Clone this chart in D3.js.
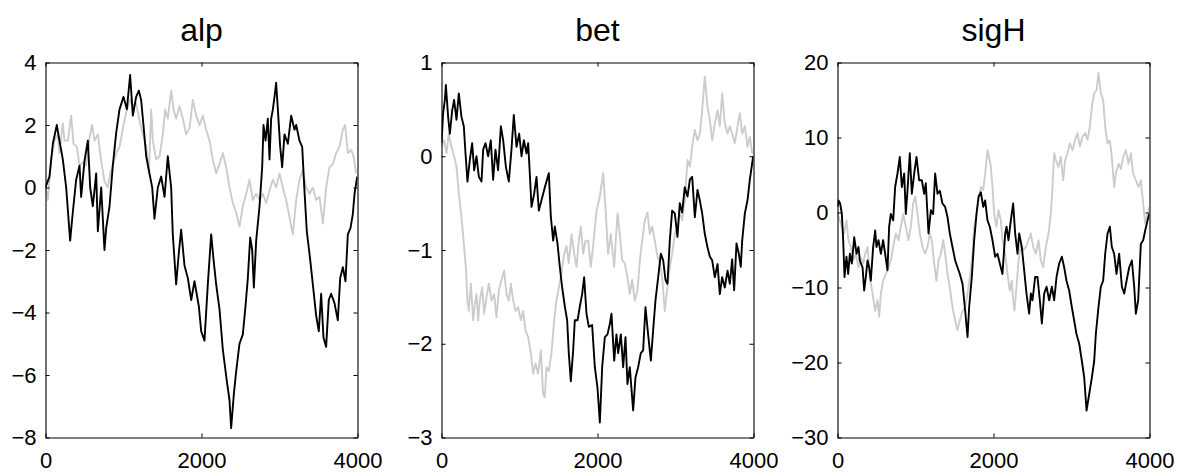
<!DOCTYPE html>
<html>
<head>
<meta charset="utf-8">
<script src="https://cdn.jsdelivr.net/npm/d3@7"></script>
<style>
  html, body { margin: 0; padding: 0; background: #fff; }
  svg { display: block; }
  text { font-family: "Liberation Sans", Arial, Helvetica, sans-serif; fill: #000; }
</style>
</head>
<body>
<svg id="fig" width="1179" height="472"></svg>
<script>
// Trace samples: [iteration, value] for the two chains of each parameter.
const alpChainA = [
  [0,0.0],[51,0.35],[94,1.4],[145,2.0],[179,1.5],[222,0.9],[265,0.0],[316,-1.7],[350,-0.8],[393,0.25],
  [436,0.7],[457,-0.3],[500,0.85],[543,1.5],[573,0.0],[607,-0.6],[650,0.45],[671,-1.4],[714,0.0],[756,-2.0],
  [778,-1.3],[821,-0.6],[863,0.7],[906,1.75],[949,2.5],[1000,2.9],[1043,2.5],[1085,3.6],[1120,2.3],[1162,2.9],
  [1197,3.1],[1226,2.8],[1256,2.0],[1291,1.0],[1333,0.45],[1368,0.0],[1397,-1.0],[1440,0.0],[1483,0.35],[1526,-0.3],
  [1568,1.0],[1611,0.0],[1632,-1.5],[1675,-3.1],[1709,-2.1],[1739,-1.35],[1782,-2.5],[1825,-2.9],[1868,-3.6],[1910,-3.0],
  [1966,-3.8],[1996,-4.6],[2038,-4.9],[2081,-3.1],[2124,-1.5],[2154,-2.3],[2188,-3.1],[2231,-3.9],[2274,-5.2],[2325,-6.2],
  [2359,-6.8],[2380,-7.7],[2415,-6.6],[2444,-5.9],[2487,-5.0],[2530,-4.7],[2564,-3.8],[2594,-2.9],[2624,-1.6],[2650,-2.0],
  [2671,-3.2],[2701,-1.7],[2744,-0.6],[2778,0.65],[2795,2.0],[2821,1.5],[2850,2.2],[2872,0.9],[2893,2.2],[2915,2.5],
  [2936,2.9],[2957,3.35],[2979,2.5],[3009,1.3],[3034,0.65],[3064,1.7],[3107,1.4],[3150,2.3],[3192,1.85],[3214,2.0],
  [3256,1.5],[3291,1.3],[3320,-0.1],[3350,-1.4],[3393,-2.3],[3436,-3.3],[3470,-4.1],[3504,-4.6],[3534,-3.4],[3564,-4.8],
  [3598,-5.1],[3632,-3.6],[3662,-3.4],[3705,-3.7],[3748,-4.25],[3778,-2.9],[3812,-2.55],[3846,-3.0],[3876,-1.5],[3910,-1.3],
  [3940,-0.85],[3962,-0.2],[3996,0.35]
];
const alpChainB = [
  [0,0.0],[30,-0.4],[73,0.9],[115,1.5],[158,1.7],[179,1.1],[222,2.05],[244,1.5],[286,1.5],[329,2.3],
  [359,1.4],[402,1.3],[436,0.7],[479,0.8],[521,0.7],[564,1.6],[598,2.0],[628,1.5],[671,1.7],[714,0.85],
  [756,0.2],[799,0.0],[829,0.45],[863,0.7],[906,1.1],[949,1.3],[1000,2.0],[1034,2.4],[1085,2.8],[1120,2.6],
  [1162,2.7],[1205,2.15],[1248,1.7],[1291,1.3],[1325,0.45],[1355,2.5],[1376,1.5],[1419,0.9],[1462,1.0],[1504,1.7],
  [1534,2.5],[1568,2.2],[1611,3.1],[1641,2.5],[1675,2.2],[1718,2.6],[1761,2.2],[1803,1.7],[1846,1.9],[1889,2.8],
  [1932,2.3],[1974,2.0],[2017,2.3],[2060,1.85],[2103,1.5],[2145,0.9],[2188,0.45],[2231,0.75],[2274,1.1],[2316,0.65],
  [2359,0.0],[2402,-0.5],[2444,-0.8],[2487,-1.25],[2530,-0.6],[2573,-0.2],[2615,0.25],[2658,-0.4],[2701,-0.2],[2744,-0.4],
  [2786,-0.2],[2829,-0.5],[2872,-0.1],[2915,0.25],[2957,0.0],[3000,0.45],[3043,0.0],[3085,-0.4],[3128,-0.95],[3171,-1.5],
  [3214,-0.4],[3256,0.25],[3299,0.55],[3342,0.0],[3385,-0.2],[3427,0.0],[3470,-0.4],[3513,-0.3],[3556,-1.15],[3598,0.0],
  [3641,0.65],[3684,0.75],[3726,1.1],[3769,1.3],[3812,1.85],[3842,2.0],[3876,1.1],[3919,1.2],[3949,1.0],[3983,0.45]
];
const betChainA = [
  [0,0.14],[21,0.46],[43,0.6],[56,0.76],[85,0.42],[107,0.24],[137,0.49],[162,0.6],[192,0.39],[222,0.67],
  [256,0.42],[286,0.32],[308,0.03],[333,-0.27],[363,-0.04],[393,0.14],[419,-0.15],[449,0.0],[479,-0.22],[513,-0.27],
  [534,0.07],[564,0.14],[598,0.0],[632,0.17],[662,-0.25],[692,0.07],[726,-0.15],[761,0.32],[791,0.17],[825,-0.11],
  [863,-0.27],[897,0.07],[927,0.44],[962,0.1],[996,0.24],[1026,0.0],[1056,0.17],[1090,0.03],[1111,0.14],[1132,-0.18],
  [1154,-0.54],[1188,-0.4],[1218,-0.22],[1248,-0.58],[1282,-0.47],[1325,-0.33],[1376,-0.18],[1402,-0.65],[1432,-0.9],[1453,-0.75],
  [1487,-0.93],[1517,-1.18],[1547,-1.4],[1581,-1.6],[1611,-1.75],[1632,-2.1],[1658,-2.4],[1688,-2.07],[1709,-1.75],[1744,-1.75],
  [1774,-1.6],[1803,-1.47],[1829,-1.29],[1859,-1.68],[1889,-1.82],[1931,-1.8],[1966,-2.25],[2000,-2.47],[2030,-2.84],[2060,-2.25],
  [2094,-1.93],[2128,-1.9],[2158,-1.79],[2179,-1.68],[2214,-2.18],[2243,-1.9],[2265,-2.1],[2299,-1.9],[2329,-2.25],[2359,-1.93],
  [2384,-2.43],[2414,-2.25],[2457,-2.71],[2487,-2.36],[2521,-2.25],[2555,-2.1],[2585,-2.07],[2615,-1.61],[2649,-1.9],[2684,-2.18],
  [2713,-1.86],[2743,-1.54],[2778,-1.29],[2812,-1.04],[2842,-1.11],[2872,-1.32],[2897,-1.36],[2927,-0.9],[2957,-0.58],[2991,-0.61],
  [3025,-0.86],[3055,-0.5],[3085,-0.6],[3119,-0.33],[3154,-0.43],[3184,-0.25],[3214,-0.22],[3248,-0.65],[3282,-0.36],[3312,-0.47],
  [3342,-0.61],[3376,-0.83],[3410,-0.97],[3440,-1.07],[3470,-1.11],[3504,-1.29],[3539,-1.15],[3568,-1.47],[3598,-1.29],[3632,-1.4],
  [3667,-1.22],[3697,-1.36],[3726,-1.1],[3752,-1.43],[3782,-0.93],[3812,-1.04],[3837,-1.18],[3855,-0.9],[3889,-0.61],[3923,-0.47],
  [3953,-0.25],[3996,0.0]
];
const betChainB = [
  [0,0.1],[34,0.17],[64,0.03],[94,0.24],[128,0.1],[162,0.0],[192,-0.11],[222,-0.4],[256,-0.65],[286,-0.93],
  [312,-1.18],[333,-1.54],[350,-1.65],[376,-1.36],[406,-1.75],[427,-1.58],[449,-1.47],[470,-1.75],[491,-1.54],[521,-1.4],
  [547,-1.68],[577,-1.5],[607,-1.36],[641,-1.54],[675,-1.47],[705,-1.72],[735,-1.43],[769,-1.32],[803,-1.22],[833,-1.47],
  [863,-1.54],[889,-1.36],[919,-1.54],[949,-1.65],[983,-1.61],[1017,-1.75],[1047,-1.65],[1077,-1.86],[1111,-1.93],[1145,-2.1],
  [1175,-2.32],[1205,-2.21],[1239,-2.32],[1274,-2.07],[1303,-2.54],[1325,-2.57],[1346,-2.25],[1376,-2.29],[1410,-2.1],[1444,-1.75],
  [1474,-1.54],[1504,-1.4],[1538,-1.25],[1573,-1.04],[1603,-0.96],[1632,-1.14],[1667,-0.83],[1701,-1.04],[1731,-1.18],[1761,-0.9],
  [1786,-0.75],[1816,-1.04],[1846,-0.9],[1880,-0.9],[1914,-1.18],[1944,-0.96],[1987,-0.58],[2030,-0.43],[2073,-0.18],[2102,-0.54],
  [2136,-1.04],[2170,-0.83],[2214,-1.18],[2256,-0.61],[2286,-0.83],[2316,-1.11],[2350,-1.14],[2384,-1.29],[2414,-1.47],[2444,-1.32],
  [2479,-1.54],[2513,-1.43],[2543,-1.11],[2573,-0.9],[2607,-0.68],[2641,-0.6],[2671,-0.83],[2701,-0.75],[2735,-0.9],[2769,-1.07],
  [2799,-1.14],[2829,-1.29],[2863,-1.65],[2897,-1.4],[2927,-1.18],[2957,-1.04],[2991,-0.83],[3025,-0.75],[3055,-0.6],[3085,-0.68],
  [3119,-0.47],[3154,-0.04],[3184,-0.11],[3214,0.1],[3248,0.28],[3282,0.17],[3312,0.24],[3342,0.49],[3376,0.85],[3410,0.53],
  [3440,0.39],[3470,0.17],[3504,0.35],[3539,0.49],[3568,0.32],[3598,0.67],[3632,0.35],[3667,0.24],[3697,0.32],[3726,0.24],
  [3761,0.14],[3795,0.32],[3825,0.46],[3855,0.24],[3889,0.32],[3923,0.1],[3953,0.21],[3983,0.03]
];
const sigHChainA = [
  [0,0.75],[13,1.6],[34,1.2],[56,-0.2],[73,-3.7],[90,-8.6],[115,-5.9],[137,-8.2],[158,-5.5],[184,-6.8],
  [214,-3.3],[244,-5.5],[269,-4.6],[286,-6.4],[321,-7.3],[342,-10.4],[363,-8.6],[385,-6.4],[406,-7.3],[427,-9.1],
  [457,-4.6],[483,-2.4],[500,-4.6],[526,-3.7],[556,-5.5],[585,-3.7],[611,-5.5],[641,-7.7],[662,-1.9],[684,-0.2],
  [714,-1.05],[739,3.4],[769,5.2],[799,7.4],[825,3.4],[855,5.2],[876,-0.2],[897,2.9],[927,7.9],[953,2.5],
  [983,5.2],[1013,7.4],[1047,4.3],[1081,4.3],[1111,2.5],[1132,3.9],[1167,-2.8],[1197,0.3],[1226,-0.2],[1252,5.2],
  [1282,2.5],[1312,2.9],[1346,1.2],[1380,0.75],[1410,-0.6],[1440,-2.8],[1474,-4.6],[1509,-6.4],[1538,-7.3],[1568,-8.2],
  [1603,-9.5],[1637,-13.1],[1667,-16.6],[1688,-12.6],[1722,-8.6],[1752,-3.7],[1782,-0.2],[1808,2.1],[1838,2.7],[1868,0.75],
  [1893,1.6],[1923,-1.05],[1953,-1.9],[1987,-3.7],[2021,-5.9],[2051,-5.5],[2081,-6.8],[2115,-8.2],[2150,-2.8],[2167,-1.9],
  [2192,-3.7],[2222,-1.05],[2252,1.2],[2278,-2.8],[2308,-5.5],[2329,-2.8],[2363,-4.6],[2393,-7.7],[2423,-10.8],[2457,-13.5],
  [2479,-10.8],[2500,-11.7],[2534,-8.6],[2564,-8.6],[2594,-11.7],[2620,-14.8],[2650,-10.8],[2680,-9.9],[2714,-11.7],[2748,-9.9],
  [2778,-11.7],[2808,-8.6],[2842,-6.8],[2876,-5.9],[2906,-7.3],[2936,-9.1],[2970,-10.4],[3004,-12.6],[3034,-14.4],[3064,-16.2],
  [3099,-17.5],[3133,-19.8],[3163,-22.0],[3193,-26.4],[3227,-24.2],[3261,-22.0],[3291,-19.8],[3312,-16.2],[3346,-12.6],[3376,-9.9],
  [3406,-9.1],[3432,-5.5],[3462,-2.8],[3492,-1.9],[3517,-4.6],[3547,-5.5],[3577,-8.2],[3611,-5.5],[3646,-9.9],[3676,-10.8],
  [3706,-9.1],[3740,-7.3],[3774,-6.4],[3804,-9.9],[3825,-13.5],[3855,-11.7],[3889,-4.2],[3919,-3.7],[3945,-2.4],[3975,-1.05],
  [3996,-0.2]
];
const sigHChainB = [
  [0,-0.2],[30,-1.05],[56,-1.9],[85,-2.8],[115,-1.05],[141,-3.7],[171,-4.6],[201,-6.4],[235,-5.5],[269,-7.3],
  [299,-6.0],[329,-6.8],[355,-5.5],[385,-4.6],[415,-8.6],[449,-10.8],[483,-13.1],[513,-11.7],[534,-13.9],[556,-10.8],
  [585,-9.1],[620,-8.2],[654,-7.3],[684,-6.4],[714,-4.6],[748,-2.8],[782,-3.7],[812,-1.9],[842,-0.2],[876,-1.9],
  [910,-3.7],[940,-1.9],[970,1.2],[996,2.1],[1026,-0.2],[1056,-2.8],[1090,-4.6],[1124,-5.5],[1154,-4.6],[1184,-2.8],
  [1209,-3.7],[1239,-6.8],[1269,-9.1],[1295,-6.4],[1325,-5.5],[1355,-3.7],[1380,-5.5],[1410,-8.2],[1440,-10.0],[1474,-12.6],
  [1509,-14.4],[1538,-15.7],[1568,-14.4],[1603,-13.1],[1637,-12.6],[1667,-10.8],[1697,-8.6],[1731,-5.5],[1752,-1.9],[1782,-0.2],
  [1808,1.6],[1838,3.4],[1868,3.0],[1893,5.2],[1923,8.3],[1944,7.4],[1966,6.1],[1987,3.4],[2009,-0.2],[2038,-1.9],
  [2064,0.3],[2094,-1.0],[2115,-3.7],[2150,-5.5],[2179,-8.2],[2209,-10.4],[2235,-9.1],[2252,-11.7],[2269,-13.1],[2295,-9.9],
  [2321,-6.4],[2350,-4.2],[2380,-5.0],[2415,-4.6],[2449,-3.7],[2479,-2.8],[2509,-4.6],[2543,-5.5],[2577,-3.7],[2607,-6.4],
  [2637,-7.3],[2671,-4.6],[2705,-2.8],[2735,-0.2],[2756,3.4],[2778,7.9],[2799,7.0],[2833,6.1],[2863,7.4],[2893,4.3],
  [2919,7.0],[2949,7.9],[2979,9.2],[3013,8.3],[3047,9.7],[3077,10.6],[3107,8.8],[3141,10.1],[3175,10.6],[3205,9.7],
  [3235,11.4],[3261,14.1],[3291,15.9],[3321,16.3],[3346,18.6],[3376,15.9],[3406,15.0],[3432,11.4],[3462,9.2],[3492,9.6],
  [3517,7.4],[3547,3.4],[3568,5.2],[3603,6.5],[3633,5.8],[3663,7.4],[3697,8.3],[3731,6.5],[3761,7.9],[3791,5.2],
  [3825,4.3],[3859,3.4],[3889,4.3],[3919,1.2],[3945,-1.5],[3975,-0.2],[3996,0.75]
];

const titles = ["alp", "bet", "sigH"];
const yDomains = [[-8, 4], [-3, 1], [-30, 20]];
const yTickValues = [[-8, -6, -4, -2, 0, 2, 4], [-3, -2, -1, 0, 1], [-30, -20, -10, 0, 10, 20]];
const xDomain = [0, 4000];
const xTickValues = [0, 2000, 4000];
const chains = [[alpChainA, alpChainB], [betChainA, betChainB], [sigHChainA, sigHChainB]];

// Panel geometry
const panelLeft = [45.5, 441.5, 837.5];
const panelWidth = 312;
const plotTop = 62.5, plotBottom = 437.5;
const chainColours = ["#000000", "#cccccc"];
const tickFmt = d3.format("d"); // plain integers, typographic minus

const svg = d3.select("#fig");

titles.forEach((title, i) => {
  const x = d3.scaleLinear().domain(xDomain).range([panelLeft[i], panelLeft[i] + panelWidth]);
  const y = d3.scaleLinear().domain(yDomains[i]).range([plotBottom, plotTop]);
  const g = svg.append("g");

  const clipId = "clip" + i;
  svg.append("clipPath").attr("id", clipId)
    .append("rect")
    .attr("x", panelLeft[i]).attr("y", plotTop)
    .attr("width", panelWidth).attr("height", plotBottom - plotTop);

  const line = d3.line().x(d => x(d[0])).y(d => y(d[1]));

  // light chain underneath, dark chain on top
  [1, 0].forEach(c => {
    g.append("path")
      .datum(chains[i][c])
      .attr("clip-path", `url(#${clipId})`)
      .attr("fill", "none")
      .attr("stroke", chainColours[c])
      .attr("stroke-width", 1.9)
      .attr("stroke-linejoin", "round")
      .attr("d", line);
  });

  const styleAxis = sel => {
    sel.select(".domain").attr("stroke", "#000").attr("stroke-width", 1.1);
    sel.selectAll(".tick line").attr("stroke", "#000").attr("stroke-width", 1);
    sel.selectAll(".tick text").attr("font-size", 22).attr("fill", "#000")
      .attr("font-family", '"Liberation Sans", Arial, Helvetica, sans-serif');
  };

  g.append("g").attr("transform", `translate(0,${plotBottom})`)
    .call(d3.axisBottom(x).tickValues(xTickValues).tickFormat(tickFmt)
      .tickSizeInner(-4).tickSizeOuter(0).tickPadding(14.5))
    .call(styleAxis);
  g.append("g").attr("transform", `translate(0,${plotTop})`)
    .call(d3.axisTop(x).tickValues(xTickValues).tickSizeInner(-4).tickSizeOuter(0).tickFormat(""))
    .call(styleAxis);
  g.append("g").attr("transform", `translate(${panelLeft[i]},0)`)
    .call(d3.axisLeft(y).tickValues(yTickValues[i]).tickFormat(tickFmt)
      .tickSizeInner(-4).tickSizeOuter(0).tickPadding(9))
    .call(styleAxis);
  g.append("g").attr("transform", `translate(${panelLeft[i] + panelWidth},0)`)
    .call(d3.axisRight(y).tickValues(yTickValues[i]).tickSizeInner(-4).tickSizeOuter(0).tickFormat(""))
    .call(styleAxis);

  g.append("text")
    .attr("x", panelLeft[i] + panelWidth / 2)
    .attr("y", 41)
    .attr("text-anchor", "middle")
    .attr("font-size", 32)
    .text(title);
});
</script>
</body>
</html>
